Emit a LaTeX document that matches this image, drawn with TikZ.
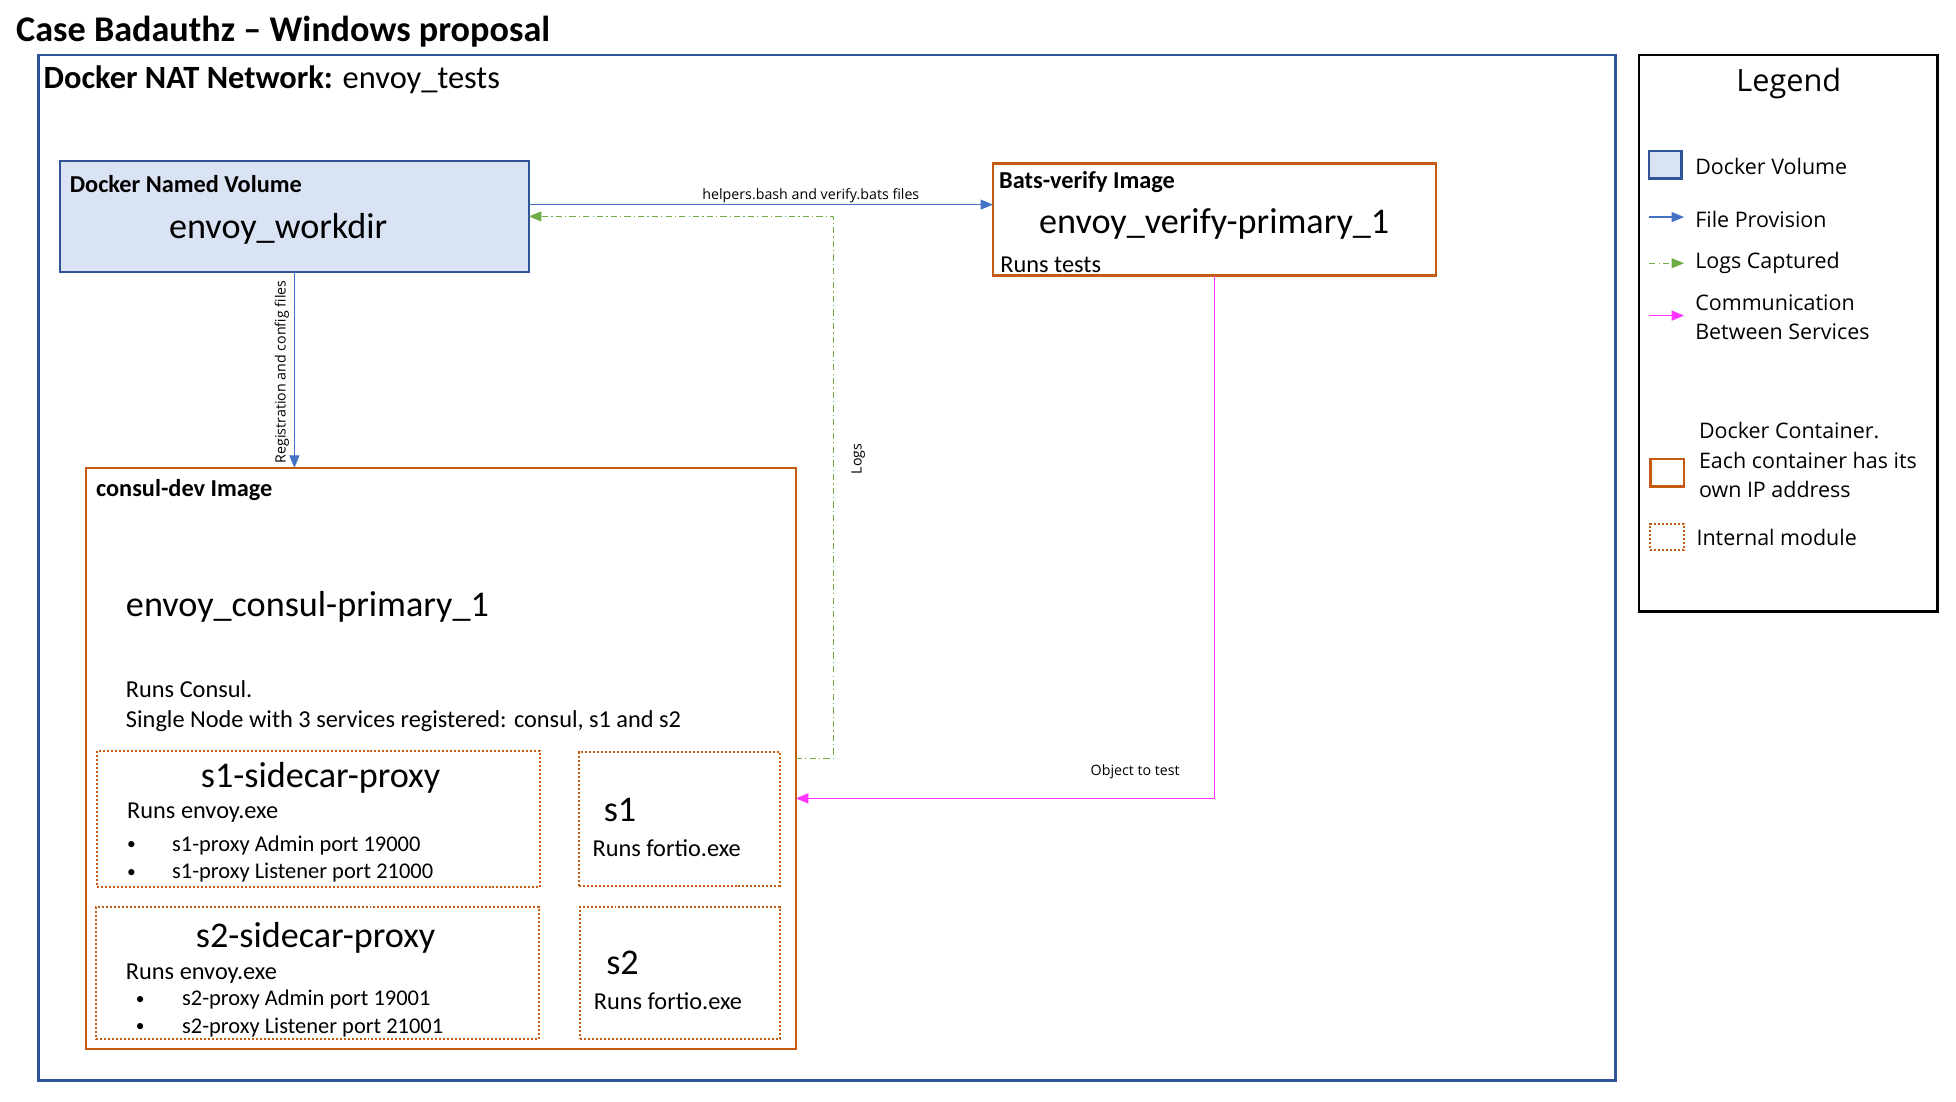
\documentclass[tikz,border=0pt]{standalone}
\usepackage{fontspec}
\setmainfont{Carlito}
\newfontfamily\segf{Open Sans}
\usetikzlibrary{arrows.meta}
\newcommand\fsz[1]{\fontsize{#1}{#1}\selectfont}
\definecolor{netblue}{HTML}{2F5597}
\definecolor{volfill}{HTML}{DAE3F3}
\definecolor{orng}{HTML}{C55A11}
\definecolor{fileblue}{HTML}{4472C4}
\definecolor{logsgreen}{HTML}{70AD47}
\definecolor{commpink}{HTML}{FF33FF}
\tikzset{
  txt/.style={anchor=base west, inner sep=0pt, outer sep=0pt, yshift=-1.2pt},
  ctxt/.style={anchor=base, inner sep=0pt, outer sep=0pt, yshift=-1.2pt},
  boxbase/.style={rectangle, inner sep=0pt, outer sep=0pt},
  netbox/.style={boxbase, draw=netblue, line width=2pt},
  volbox/.style={boxbase, draw=netblue, fill=volfill, line width=2pt},
  contbox/.style={boxbase, draw=orng, line width=2pt},
  modbox/.style={boxbase, draw=orng, line width=1.6pt, dash pattern=on 1.6pt off 1.6pt},
  legbox/.style={boxbase, draw=black, line width=2pt},
  tip/.style={-{Triangle[length=10pt,width=8pt]}},
  fileline/.style={tip, draw=fileblue, line width=1pt},
  logsline/.style={tip, draw=logsgreen, line width=1pt, dash pattern=on 5pt off 2.5pt on 1pt off 2.5pt},
  commline/.style={tip, draw=commpink, line width=1.2pt},
  small/.style={font=\segf\fsz{11.4}, inner sep=0pt},
  big/.style={font=\fsz{29}},
  head/.style={font=\bfseries\fsz{19.5}},
  body/.style={font=\fsz{19.5}},
  bul/.style={font=\fsz{18}},
  dot/.style={font=\fsz{14}},
  leg/.style={font=\segf\fsz{17.2}},
}
\begin{document}
\begin{tikzpicture}[x=1pt,y=-1pt]
\useasboundingbox (0,0) rectangle (1568,883.4);

% title
\node[txt, font=\bfseries\fsz{29}] (title) at (13,32) {Case Badauthz – Windows proposal};

% network
\node[netbox, minimum width=1264pt, minimum height=822pt] (net) at (663,455) {};
\node[txt, font=\fsz{26}] (nettxt) at (35,70) {\textbf{Docker NAT Network:} envoy\_tests};

% volume
\node[volbox, minimum width=376pt, minimum height=89pt] (vol) at (236,173.5) {};
\node[txt, head] (volhead) at (56,153) {Docker Named Volume};
\node[ctxt, big] (volname) at (223,190) {envoy\_workdir};

% bats
\node[contbox, minimum width=355pt, minimum height=90pt] (bats) at (973.5,176) {};
\node[txt, head] (batshead) at (801,150) {Bats-verify Image};
\node[txt, big] (batsname) at (833,186) {envoy\_verify-primary\_1};
\node[txt, body] (batsrun) at (802,217) {Runs tests};

% consul
\node[contbox, minimum width=569pt, minimum height=466pt] (consul) at (353.5,608) {};
\node[txt, head] (conshead) at (77,397) {consul-dev Image};
\node[txt, big] (consname) at (101,493) {envoy\_consul-primary\_1};
\node[txt, body] (consrun) at (101,558) {Runs Consul.};
\node[txt, body] (conssingle) at (101,582) {Single Node with 3 services registered: consul, s1 and s2};

% s1-sidecar-proxy
\node[modbox, minimum width=355pt, minimum height=109pt] (s1p) at (255.5,656.5) {};
\node[ctxt, big] (s1pname) at (257,630) {s1-sidecar-proxy};
\node[txt, body] (s1prun) at (102,655) {Runs envoy.exe};
\node[txt, dot] (s1pb1) at (102,680) {•};
\node[txt, bul] (s1pt1) at (138,681) {s1-proxy Admin port 19000};
\node[txt, dot] (s1pb2) at (102,702) {•};
\node[txt, bul] (s1pt2) at (138,703) {s1-proxy Listener port 21000};

% s1
\node[modbox, minimum width=161pt, minimum height=107pt] (s1) at (544.5,656.5) {};
\node[txt, big] (s1name) at (484,657) {s1};
\node[txt, body] (s1run) at (475,685) {Runs fortio.exe};

% s2-sidecar-proxy
\node[modbox, minimum width=355pt, minimum height=106pt] (s2p) at (254.5,780) {};
\node[ctxt, big] (s2pname) at (253,758) {s2-sidecar-proxy};
\node[txt, body] (s2prun) at (101,784) {Runs envoy.exe};
\node[txt, dot] (s2pb1) at (109,804) {•};
\node[txt, bul] (s2pt1) at (146,805) {s2-proxy Admin port 19001};
\node[txt, dot] (s2pb2) at (109,826) {•};
\node[txt, bul] (s2pt2) at (146,827) {s2-proxy Listener port 21001};

% s2
\node[modbox, minimum width=160pt, minimum height=106pt] (s2) at (545,780) {};
\node[txt, big] (s2name) at (486,780) {s2};
\node[txt, body] (s2run) at (476,808) {Runs fortio.exe};

% connectors
\coordinate (fa) at ([yshift=9.5pt]vol.east);
\draw[fileline] (fa) -- (fa -| bats.west);
\node[small, anchor=center] (falbl) at (650,157) {helpers.bash and verify.bats files};

\draw[fileline] (vol.south) -- (vol.south |- consul.north);
\node[small, anchor=center, rotate=90] (reglbl) at (226,298) {Registration and config files};

\coordinate (lx) at (668,608);
\draw[logsline] (consul.east) -- (lx) |- (vol.east);
\node[small, anchor=center, rotate=90] (logslbl) at (688,368) {Logs};

\draw[commline] (bats.south) |- ([yshift=-32pt]consul.east);
\node[small, anchor=center] (otlbl) at (910,619) {Object to test};

% legend
\node[legbox, minimum width=239pt, minimum height=446pt] (legend) at (1433.5,267) {};
\node[ctxt, font=\segf\fsz{24.6}] (legtitle) at (1434,72) {Legend};
\node[volbox, minimum width=26pt, minimum height=22pt] (lvol) at (1335,132) {};
\node[txt, leg] (lvoltxt) at (1359,139) {Docker Volume};
\coordinate (lf1) at (1322,174);
\coordinate (lf2) at (1350,174);
\draw[fileline] (lf1) -- (lf2);
\node[txt, leg] (lfiletxt) at (1359,181) {File Provision};
\coordinate (lg1) at (1322,211);
\coordinate (lg2) at (1350,211);
\draw[logsline] (lg1) -- (lg2);
\node[txt, leg] (llogstxt) at (1359,214) {Logs Captured};
\coordinate (lc1) at (1322,253);
\coordinate (lc2) at (1350,253);
\draw[commline] (lc1) -- (lc2);
\node[txt, leg] (lcomm1) at (1359,248) {Communication};
\node[txt, leg] (lcomm2) at (1359,271) {Between Services};
\node[contbox, minimum width=27pt, minimum height=22pt] (lcont) at (1336.5,379) {};
\node[txt, leg] (lcont1) at (1362,350) {Docker Container.};
\node[txt, leg] (lcont2) at (1362,374) {Each container has its};
\node[txt, leg] (lcont3) at (1362,398) {own IP address};
\node[modbox, minimum width=27pt, minimum height=21pt] (lmod) at (1336.5,430.5) {};
\node[txt, leg] (lmodtxt) at (1360,436) {Internal module};
\end{tikzpicture}
\end{document}
